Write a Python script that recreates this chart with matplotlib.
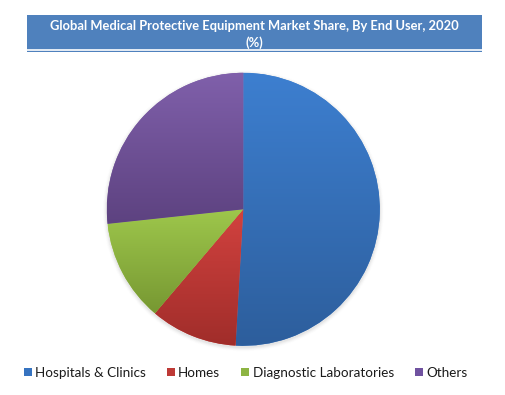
import numpy as np
import matplotlib
matplotlib.use("Agg")
import matplotlib.pyplot as plt
from matplotlib.patches import Rectangle, Circle, Patch
from matplotlib.colors import LinearSegmentedColormap

labels = ["Hospitals & Clinics", "Homes", "Diagnostic Laboratories", "Others"]
shares = [50.9, 10.3, 12.1, 26.7]
top_colors = ["#3D7FD0", "#D2423F", "#9EC74C", "#8060AB"]
bottom_colors = ["#2D5E9C", "#A02D2A", "#779832", "#5D4280"]
legend_colors = ["#3673C0", "#BE3A36", "#8DB443", "#7052A0"]
title_lines = ["Global Medical Protective Equipment Market Share, By End User, 2020", "(%)"]

W, H = 506, 395
fig = plt.figure(figsize=(W / 100, H / 100), dpi=100)
ax = fig.add_axes([0, 0, 1, 1])

cx, cy, r = 243.3, H - 209.3, 136.5

# soft shadow under the pie
for i, a in enumerate(np.linspace(0.05, 0.01, 6)):
    ax.add_patch(Circle((cx, cy - 1.5), r + 0.5 + i * 0.7, color="#808080", alpha=a, lw=0, zorder=0))

wedges, _ = ax.pie(shares, startangle=90, counterclock=False, radius=r, center=(cx, cy),
                   colors=top_colors, wedgeprops=dict(lw=0))

# vertical gradient inside each slice
for w, c0, c1 in zip(wedges, top_colors, bottom_colors):
    x0, y0, x1, y1 = w.get_path().get_extents().extents
    cmap = LinearSegmentedColormap.from_list("g", [c1, c0])
    grad = np.linspace(0, 1, 256).reshape(-1, 1)
    im = ax.imshow(grad, cmap=cmap, extent=(x0, x1, y0, y1), origin="lower",
                   aspect="auto", zorder=2, interpolation="bilinear")
    im.set_clip_path(w)

ax.set_xlim(0, W)
ax.set_ylim(0, H)
ax.set_aspect("auto")
ax.axis("off")

# title box
ax.add_patch(Rectangle((26.7, H - 52), 455.6, 37, color="#4F81BD", lw=0, zorder=3))
ax.plot([26.7, 482.3], [H - 50.3, H - 50.3], color="white", lw=1.2, zorder=4)
for line, yb in zip(title_lines, [30.0, 47.3]):
    ax.text(254.5, H - yb, line, ha="center", va="baseline", color="white", fontsize=9.25,
            fontweight="bold", family="Lato", zorder=5)

handles = [Patch(facecolor=c, edgecolor="none") for c in legend_colors]
leg = fig.legend(handles, labels, loc="center", bbox_to_anchor=(245.5 / W, 22.3 / H), ncol=4,
                 frameon=False, prop=dict(family="Lato", size=9.7), handlelength=0.6,
                 handleheight=0.6, handletextpad=0.25, columnspacing=1.55, borderpad=0)
for t in leg.get_texts():
    t.set_color("#1A1A1A")

fig.savefig("out.png", dpi=100)
